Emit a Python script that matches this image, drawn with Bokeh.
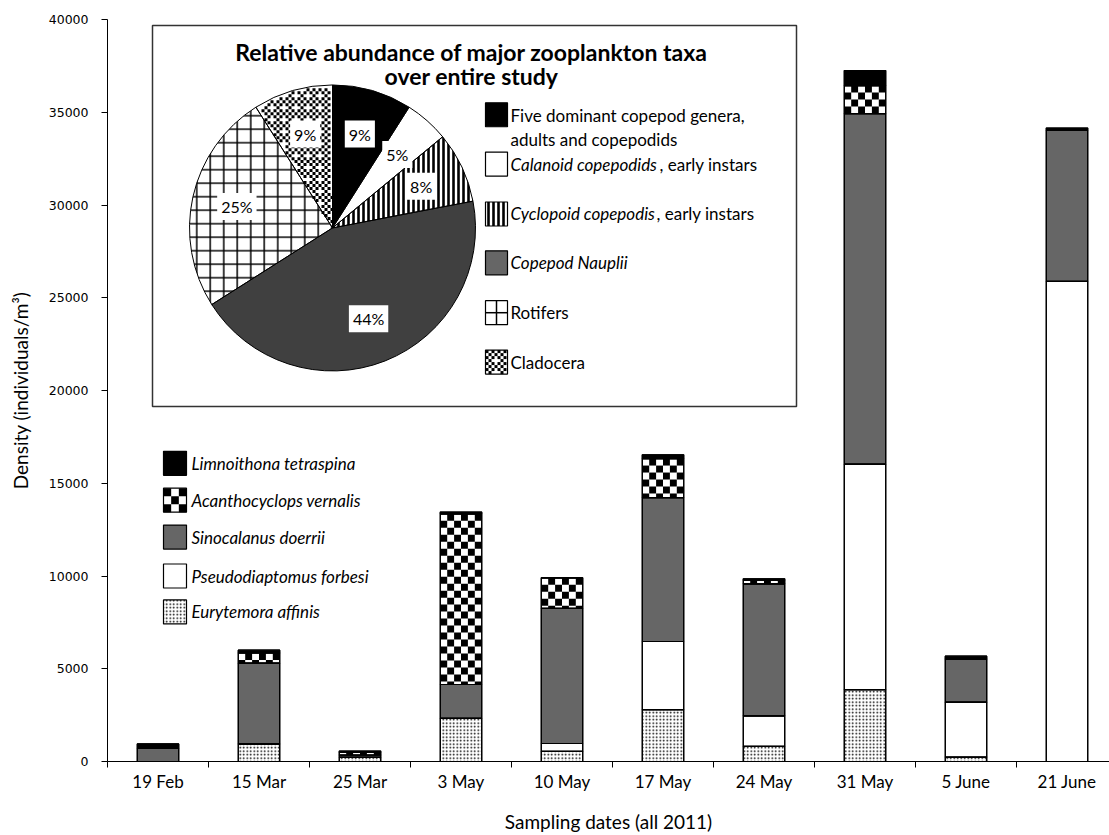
import math
from bokeh.plotting import figure
from bokeh.models import ColumnDataSource, Range1d, FixedTicker, Label
from bokeh.core.properties import value, field
from bokeh.embed import file_html
from bokeh.resources import INLINE

# ---------------- data ----------------
dates = ["19 Feb", "15 Mar", "25 Mar", "3 May", "10 May", "17 May", "24 May", "31 May", "5 June", "21 June"]
eurytemora = [0, 950, 230, 2320, 550, 2800, 810, 3870, 240, 0]
pseudodiaptomus = [0, 0, 0, 0, 420, 3670, 1650, 12160, 2960, 25880]
sinocalanus = [700, 4350, 120, 1830, 7280, 7760, 7120, 18900, 2320, 8150]
acanthocyclops = [0, 550, 150, 9200, 1650, 2100, 200, 1510, 0, 0]
limnoithona = [250, 150, 60, 100, 0, 200, 70, 810, 160, 120]

species = ["Eurytemora affinis", "Pseudodiaptomus forbesi", "Sinocalanus doerrii",
           "Acanthocyclops vernalis", "Limnoithona tetraspina"]

y_ticks = [0, 5000, 10000, 15000, 20000, 25000, 30000, 35000, 40000]

pie_taxa = ["Five dominant copepod genera, adults and copepodids",
            "Calanoid copepodids, early instars",
            "Cyclopoid copepodis, early instars",
            "Copepod Nauplii", "Rotifers", "Cladocera"]
pie_pct = [9, 5, 8, 44, 25, 9]

# ---------------- layout constants (screen px) ----------------
W, H = 1109, 835
FL, FT, FB = 107, 19, 763
PX_CAT = 101.0
YMAX = 40000
XEND = (W - FL) / PX_CAT
YPP = YMAX / (FB - FT)      # data units per px


def sx2x(sx):
    return (sx - FL) / PX_CAT


def sy2y(sy):
    return (FB - sy) * YPP


p = figure(width=W, height=H, x_range=Range1d(0, XEND), y_range=Range1d(0, YMAX),
           output_backend="svg", toolbar_location=None,
           min_border_left=FL, min_border_top=FT, min_border_right=0,
           min_border_bottom=H - FB)
p.xgrid.visible = False
p.ygrid.visible = False
p.outline_line_color = None
p.background_fill_color = "white"

# ---------------- stacked bars ----------------
BW = 0.41
stack_cols = ["eury", "pseudo", "sino", "acan", "limno"]
centers = [i + 0.5 for i in range(len(dates))]
src = ColumnDataSource(dict(x=centers, date=dates,
                            eury=eurytemora, pseudo=pseudodiaptomus, sino=sinocalanus,
                            acan=acanthocyclops, limno=limnoithona))
p.vbar_stack(stack_cols, x="x", width=BW, source=src,
             fill_color=["white", "white", "#666666", "white", "black"],
             line_color="black", line_width=1.2,
             hatch_pattern=["dot", None, None, None, None],
             hatch_scale=3.5, hatch_color="black")

# checkerboard cells of Acanthocyclops, derived from the stacked values
NC = 6
cw = BW / NC
ch = 7 * YPP
ck = dict(l=[], r=[], b=[], t=[])
for i in range(len(dates)):
    a = acanthocyclops[i]
    if a <= 0:
        continue
    b0 = eurytemora[i] + pseudodiaptomus[i] + sinocalanus[i]
    t0 = b0 + a
    x0 = centers[i] - BW / 2
    nr = int(math.ceil(a / ch))
    for r in range(nr):
        y1 = t0 - r * ch
        y0 = max(t0 - (r + 1) * ch, b0)
        for c in range(NC):
            if (r + c) % 2 == 1:
                ck["l"].append(x0 + c * cw)
                ck["r"].append(x0 + (c + 1) * cw)
                ck["b"].append(y0)
                ck["t"].append(y1)
p.quad(left=ck["l"], right=ck["r"], bottom=ck["b"], top=ck["t"],
       fill_color="black", line_color=None)
p.vbar_stack(stack_cols, x="x", width=BW, source=src, fill_color=None,
             line_color="black", line_width=1.2)

# ---------------- axes ----------------
p.yaxis.ticker = FixedTicker(ticks=y_ticks)
p.yaxis.major_tick_out = 6
p.yaxis.major_tick_in = 0
p.yaxis.minor_tick_out = 0
p.yaxis.minor_tick_in = 0
p.yaxis.major_label_standoff = 13
p.yaxis.major_label_text_font = "DejaVu Sans"
p.yaxis.major_label_text_font_size = "12.5px"
p.yaxis.major_label_text_color = "black"
p.yaxis.axis_line_color = "black"
p.yaxis.major_tick_line_color = "black"
p.yaxis.axis_label = "Density (individuals/m³)"
p.yaxis.axis_label_text_font = "Lato"
p.yaxis.axis_label_text_font_size = "19px"
p.yaxis.axis_label_text_font_style = "normal"
p.yaxis.axis_label_text_color = "black"
p.yaxis.axis_label_standoff = 14

p.xaxis.ticker = FixedTicker(ticks=centers, minor_ticks=list(range(0, 10)))
p.xaxis.major_label_overrides = {c: d for c, d in zip(centers, dates)}
p.xaxis.major_tick_out = 0
p.xaxis.major_tick_in = 0
p.xaxis.minor_tick_out = 6
p.xaxis.minor_tick_in = 0
p.xaxis.minor_tick_line_color = "black"
p.xaxis.major_label_standoff = 3
p.xaxis.major_label_text_font = "Lato"
p.xaxis.major_label_text_font_size = "17px"
p.xaxis.major_label_text_color = "black"
p.xaxis.axis_line_color = "black"
p.xaxis.axis_label = "Sampling dates (all 2011)"
p.xaxis.axis_label_text_font = "Lato"
p.xaxis.axis_label_text_font_size = "19px"
p.xaxis.axis_label_text_font_style = "normal"
p.xaxis.axis_label_text_color = "black"
p.xaxis.axis_label_standoff = 15

# ---------------- helpers for legend swatches ----------------
m_clado = [[1, 0, 1, 0], [0, 1, 0, 1], [1, 0, 1, 0], [0, 1, 0, 0]]


def checker_in_box(x_l, y_t, w, h, n):
    cx, cy = [], []
    cwp, chp = w / n, h / n
    for r in range(n):
        for c in range(n):
            if (r + c) % 2 == 0:
                cx.append(sx2x(x_l + (c + 0.5) * cwp))
                cy.append(sy2y(y_t + (r + 0.5) * chp))
    return cx, cy, cwp, chp


def clado_in_box(x_l, y_t, w, h, cs=3):
    xs, ys = [], []
    gy = y_t
    while gy + cs <= y_t + h + 0.01:
        gx = x_l
        while gx + cs <= x_l + w + 0.01:
            if m_clado[int(round((gy - y_t) / cs)) % 4][int(round((gx - x_l) / cs)) % 4]:
                xs.append(sx2x(gx + cs / 2))
                ys.append(sy2y(gy + cs / 2))
            gx += cs
        gy += cs
    return xs, ys

# ---------------- bar legend ----------------
SWW, SWH = 23, 24
leg_y = [613, 577, 538, 501, 464]  # screen y for species (bottom->top order)
leg_cx = 174.5
leg_src = ColumnDataSource(dict(
    x=[sx2x(leg_cx)] * 5, y=[sy2y(v) for v in leg_y],
    fill=["white", "white", "#666666", "white", "black"],
    hatch=["dot", " ", " ", " ", " "],
    tx=[sx2x(191)] * 5, label=species))
p.rect(x="x", y="y", width=SWW, height=SWH, width_units="screen", height_units="screen",
       source=leg_src, fill_color="fill", line_color=None,
       hatch_pattern=field("hatch"), hatch_scale=3.5, hatch_color="black")
cx_, cy_, cwp, chp = checker_in_box(leg_cx - SWW / 2, leg_y[3] - SWH / 2, SWW, SWH, 3)
p.rect(x=cx_, y=cy_, width=cwp, height=chp, width_units="screen", height_units="screen",
       fill_color="black", line_color=None)
p.rect(x="x", y="y", width=SWW, height=SWH, width_units="screen", height_units="screen",
       source=leg_src, fill_color=None, line_color="black", line_width=1.2)
p.text(x="tx", y="y", text="label", source=leg_src, text_font=value("Lato"),
       text_font_size="17px", text_font_style="italic", text_baseline="middle",
       text_align="left", text_color="black")

# ---------------- inset box ----------------
p.quad(left=[sx2x(152)], right=[sx2x(796)], top=[sy2y(25)], bottom=[sy2y(407)],
       fill_color="white", line_color="#333333", line_width=1.5)
p.text(x=[sx2x(471), sx2x(471)], y=[sy2y(52), sy2y(76)],
       text=["Relative abundance of major zooplankton taxa", "over entire study"],
       text_font=value("Lato"), text_font_size="23px", text_font_style="bold",
       text_align="center", text_baseline="middle", text_color="black")

# ---------------- pie ----------------
CX, CY, R = 332, 228, 143
cum = [0]
for v in pie_pct:
    cum.append(cum[-1] + v)
tot = float(cum[-1])
starts = [math.pi / 2 - 2 * math.pi * cum[i] / tot for i in range(len(pie_pct))]
ends = [math.pi / 2 - 2 * math.pi * cum[i + 1] / tot for i in range(len(pie_pct))]
pie_fill = ["black", "white", "white", "#404040", "white", "white"]
pie_hatch = [" ", " ", "vertical_line", " ", "cross", " "]
pie_hs = [12, 12, 5, 12, 13.5, 12]
pie_hw = [1, 1, 2.6, 1, 1.5, 1]
pie_src = ColumnDataSource(dict(x=[sx2x(CX)] * 6, y=[sy2y(CY)] * 6, start=starts, end=ends,
                                fill=pie_fill, hatch=pie_hatch, hs=pie_hs, hw=pie_hw,
                                taxa=pie_taxa, pct=pie_pct))
p.wedge(x="x", y="y", radius=R, radius_units="screen", start_angle="start", end_angle="end",
        direction="clock", source=pie_src, fill_color="fill", line_color=None,
        hatch_pattern=field("hatch"), hatch_scale="hs", hatch_weight="hw",
        hatch_color="black")

# confetti cells of the Cladocera slice, clipped to that slice
CS = 3
f0, f1 = cum[5] / tot, cum[6] / tot
cl_x, cl_y = [], []
gy = CY - R
while gy < CY + R:
    gx = CX - R
    while gx < CX + R:
        mx, my = gx + CS / 2, gy + CS / 2
        dxp, dyp = mx - CX, CY - my
        rr = math.hypot(dxp, dyp)
        if rr < R - 1.5:
            frac = (math.atan2(dxp, dyp) % (2 * math.pi)) / (2 * math.pi)
            if f0 + 0.002 < frac < f1 - 0.002:
                if m_clado[int((gy - (CY - R)) // CS) % 4][int((gx - (CX - R)) // CS) % 4]:
                    cl_x.append(sx2x(mx))
                    cl_y.append(sy2y(my))
        gx += CS
    gy += CS
p.rect(x=cl_x, y=cl_y, width=CS, height=CS, width_units="screen", height_units="screen",
       fill_color="black", line_color=None)
p.wedge(x="x", y="y", radius=R, radius_units="screen", start_angle="start", end_angle="end",
        direction="clock", source=pie_src, fill_color=None, line_color="black", line_width=1)

LR = 98
for i, v in enumerate(pie_pct):
    mid = 2 * math.pi * (cum[i] + v / 2.0) / tot
    lx = CX + LR * math.sin(mid)
    ly = CY - LR * math.cos(mid)
    p.add_layout(Label(x=sx2x(lx), y=sy2y(ly), text=f"{v}%", text_font="Lato",
                       text_font_size="16px", text_align="center", text_baseline="middle",
                       background_fill_color="white", padding=4, text_color="black"))

# ---------------- pie legend ----------------
PSW, PSH = 22, 24
pl_cx = 496
pl_y = [114.5, 164, 214, 263, 313, 362.5]
pleg_src = ColumnDataSource(dict(x=[sx2x(pl_cx)] * 6, y=[sy2y(v) for v in pl_y],
                                 fill=["black", "white", "white", "#666666", "white", "white"],
                                 hatch=[" ", " ", "vertical_line", " ", " ", " "],
                                 hs=pie_hs, hw=pie_hw))
p.rect(x="x", y="y", width=PSW, height=PSH, width_units="screen", height_units="screen",
       source=pleg_src, fill_color="fill", line_color=None,
       hatch_pattern=field("hatch"), hatch_scale="hs", hatch_weight="hw", hatch_color="black")
# rotifer icon (+) and cladocera confetti inside their swatches
p.segment(x0=[sx2x(pl_cx - PSW / 2), sx2x(pl_cx)], y0=[sy2y(pl_y[4]), sy2y(pl_y[4] - PSH / 2)],
          x1=[sx2x(pl_cx + PSW / 2), sx2x(pl_cx)], y1=[sy2y(pl_y[4]), sy2y(pl_y[4] + PSH / 2)],
          line_color="black", line_width=1.5)
lx_, ly_ = clado_in_box(pl_cx - PSW / 2, pl_y[5] - PSH / 2, PSW - 1, PSH)
p.rect(x=lx_, y=ly_, width=CS, height=CS, width_units="screen", height_units="screen",
       fill_color="black", line_color=None)
p.rect(x="x", y="y", width=PSW, height=PSH, width_units="screen", height_units="screen",
       source=pleg_src, fill_color=None, line_color="black", line_width=1.2)

TX = sx2x(510)
reg_txt = ["Five dominant copepod genera,", "adults and copepodids", "Rotifers", "Cladocera"]
reg_y = [115, 139, 313, 362.5]
p.text(x=[TX] * 4, y=[sy2y(v) for v in reg_y], text=reg_txt,
       text_font=value("Lato"), text_font_size="17px", text_baseline="middle",
       text_align="left", text_color="black")
ita_txt = ["Calanoid copepodids", "Cyclopoid copepodis", "Copepod Nauplii"]
ita_y = [164, 214, 263]
p.text(x=[TX] * 3, y=[sy2y(v) for v in ita_y], text=ita_txt,
       text_font=value("Lato"), text_font_size="17px", text_font_style="italic",
       text_baseline="middle", text_align="left", text_color="black")
p.text(x=[sx2x(659), sx2x(656)], y=[sy2y(164), sy2y(214)],
       text=[", early instars", " , early instars"],
       text_font=value("Lato"), text_font_size="17px", text_baseline="middle",
       text_align="left", text_color="black")

open("out.html", "w").write(file_html(p, INLINE))
